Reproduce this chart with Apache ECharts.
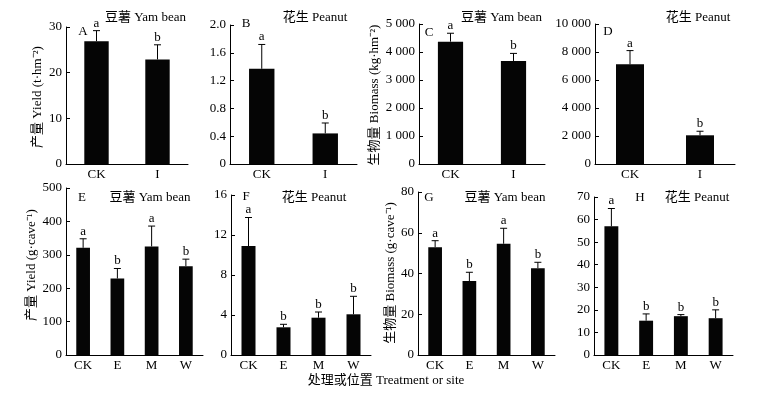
<!DOCTYPE html>
<html>
<head>
<meta charset="utf-8">
<script src="https://cdn.jsdelivr.net/npm/echarts@6/dist/echarts.min.js"></script>
<style>
html, body {margin: 0; padding: 0; background: #fff;}
#chart {width: 776px; height: 399px;}
</style>
</head>
<body>
<div id="chart"></div>
<script>
var cats_top = ['CK', 'I'];
var cats_bottom = ['CK', 'E', 'M', 'W'];

// means, standard errors and significance letters
var mean_a = [26.9, 22.9];
var err_a = [2.3, 3.2];
var sig_a = ['a', 'b'];
var mean_b = [1.37, 0.44];
var err_b = [0.35, 0.15];
var sig_b = ['a', 'b'];
var mean_c = [4370, 3680];
var err_c = [300, 270];
var sig_c = ['a', 'b'];
var mean_d = [7120, 2050];
var err_d = [980, 290];
var sig_d = ['a', 'b'];
var mean_e = [321, 229, 325, 266];
var err_e = [27, 30, 61, 21];
var sig_e = ['a', 'b', 'a', 'b'];
var mean_f = [10.9, 2.77, 3.73, 4.07];
var err_f = [2.85, 0.3, 0.57, 1.8];
var sig_f = ['a', 'b', 'b', 'b'];
var mean_g = [52.9, 36.3, 54.6, 42.6];
var err_g = [3.2, 4.3, 7.6, 2.9];
var sig_g = ['a', 'b', 'a', 'b'];
var mean_h = [57.0, 15.2, 17.2, 16.3];
var err_h = [7.9, 3.0, 0.7, 3.7];
var sig_h = ['a', 'b', 'b', 'b'];

var FONT = '"Liberation Serif", "Noto Sans CJK SC", serif';

function thousands(v) {
	return String(v).replace(/\B(?=(\d{3})+(?!\d))/g, ' ');
}
function one_dec(v) {
	return v === 0 ? '0' : v.toFixed(1);
}

var panels = [
	{cats: cats_top, mean: mean_a, err: err_a, sig: sig_a, max: 30, step: 10, fmt: null,
		grid: {left: 66, top: 27, width: 122, height: 137}},
	{cats: cats_top, mean: mean_b, err: err_b, sig: sig_b, max: 2, step: 0.4, fmt: one_dec,
		grid: {left: 230, top: 25, width: 127, height: 139}},
	{cats: cats_top, mean: mean_c, err: err_c, sig: sig_c, max: 5000, step: 1000, fmt: thousands,
		grid: {left: 419, top: 24, width: 126, height: 140}},
	{cats: cats_top, mean: mean_d, err: err_d, sig: sig_d, max: 10000, step: 2000, fmt: thousands,
		grid: {left: 595, top: 24, width: 140, height: 140}},
	{cats: cats_bottom, mean: mean_e, err: err_e, sig: sig_e, max: 500, step: 100, fmt: null,
		grid: {left: 66, top: 188, width: 137, height: 167}},
	{cats: cats_bottom, mean: mean_f, err: err_f, sig: sig_f, max: 16, step: 4, fmt: null,
		grid: {left: 231, top: 195, width: 140, height: 160}},
	{cats: cats_bottom, mean: mean_g, err: err_g, sig: sig_g, max: 80, step: 20, fmt: null,
		grid: {left: 418, top: 192, width: 137, height: 163}},
	{cats: cats_bottom, mean: mean_h, err: err_h, sig: sig_h, max: 70, step: 10, fmt: null,
		grid: {left: 594, top: 197, width: 139, height: 158}}
];

function make_err_render(sig) {
	return function(params, api) {
		var x = api.value(0);
		var m = api.value(1);
		var s = api.value(2);
		var p0 = api.coord([x, m]);
		var p1 = api.coord([x, m + s]);
		var hw = 3.5;
		var st = {stroke: '#000', lineWidth: 1};
		return {
			type: 'group',
			children: [
				{type: 'line', shape: {x1: p0[0], y1: p0[1], x2: p1[0], y2: p1[1]}, style: st},
				{type: 'line', shape: {x1: p1[0] - hw, y1: p1[1], x2: p1[0] + hw, y2: p1[1]}, style: st},
				{type: 'text', style: {text: sig[params.dataIndex], x: p1[0], y: p1[1] - 1,
					textAlign: 'center', textVerticalAlign: 'bottom',
					fontSize: 13, fontFamily: FONT, fill: '#000'}}
			]
		};
	};
}

var grids = [], xAxes = [], yAxes = [], series = [];
for (var i = 0; i < panels.length; i++) {
	var p = panels[i];
	grids.push(p.grid);
	xAxes.push({
		type: 'category', gridIndex: i, data: p.cats, boundaryGap: true,
		axisLine: {lineStyle: {color: '#000', width: 1}},
		axisTick: {inside: true, length: 4, lineStyle: {color: '#000'}},
		axisLabel: {color: '#000', fontSize: 13, fontFamily: FONT, margin: 4}
	});
	var yax = {
		type: 'value', gridIndex: i, min: 0, max: p.max, interval: p.step,
		splitLine: {show: false},
		axisLine: {show: true, lineStyle: {color: '#000', width: 1}},
		axisTick: {show: true, inside: true, length: 4, lineStyle: {color: '#000'}},
		axisLabel: {color: '#000', fontSize: 13, fontFamily: FONT, margin: 4}
	};
	if (p.fmt) yax.axisLabel.formatter = p.fmt;
	yAxes.push(yax);
	series.push({
		type: 'bar', xAxisIndex: i, yAxisIndex: i, data: p.mean, barWidth: '40%',
		itemStyle: {color: '#050505'}, silent: true
	});
	var ed = [];
	for (var k = 0; k < p.mean.length; k++) ed.push([k, p.mean[k], p.err[k]]);
	series.push({
		type: 'custom', xAxisIndex: i, yAxisIndex: i, data: ed,
		encode: {x: 0, y: 1}, renderItem: make_err_render(p.sig), silent: true, z: 5
	});
}

function txt(x, y, s, align, rot) {
	var el = {
		type: 'text', x: x, y: y,
		style: {text: s, fontSize: 13, fontFamily: FONT, fill: '#000',
			textAlign: align || 'center', textVerticalAlign: 'middle'}
	};
	if (rot) el.rotation = Math.PI / 2;
	return el;
}

var graphics = [
	txt(83, 32, 'A'), txt(246, 24, 'B'), txt(429, 33, 'C'), txt(608, 32, 'D'),
	txt(82, 198, 'E'), txt(246, 197, 'F'), txt(429, 198, 'G'), txt(640, 198, 'H'),
	txt(186, 18, '豆薯 Yam bean', 'right'), txt(315, 18, '花生 Peanut'),
	txt(542, 18, '豆薯 Yam bean', 'right'), txt(698, 18, '花生 Peanut'),
	txt(150, 198, '豆薯 Yam bean'), txt(314, 198, '花生 Peanut'),
	txt(505, 198, '豆薯 Yam bean'), txt(697, 198, '花生 Peanut'),
	txt(38, 97, '产量 Yield (t·hm⁻²)', 'center', true),
	txt(375, 95, '生物量 Biomass (kg·hm⁻²)', 'center', true),
	txt(32, 265, '产量 Yield (g·cave⁻¹)', 'center', true),
	txt(391, 273, '生物量 Biomass (g·cave⁻¹)', 'center', true),
	txt(386, 381, '处理或位置 Treatment or site')
];

var myChart = echarts.init(document.getElementById('chart'), null, {renderer: 'canvas'});
myChart.setOption({
	animation: false,
	backgroundColor: '#fff',
	grid: grids,
	xAxis: xAxes,
	yAxis: yAxes,
	series: series,
	graphic: graphics
});
</script>
</body>
</html>
